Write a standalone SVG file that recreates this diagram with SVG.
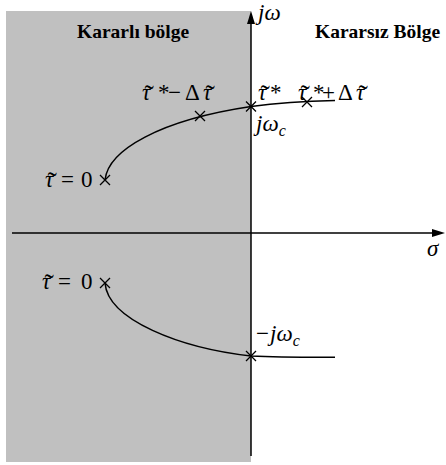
<svg xmlns="http://www.w3.org/2000/svg" width="446" height="465" viewBox="0 0 446 465">
<style>
.ax{stroke:#000;stroke-width:1.5;fill:none}
.cv{stroke:#000;stroke-width:1.5;fill:none}
.mk{stroke:#000;stroke-width:1.3;fill:none}
text{font-family:'Liberation Serif','Times New Roman',serif;fill:#000}
.t{font-size:23px}
.i{font-style:italic}
.b{font-size:19.5px;font-weight:bold}
.s{font-size:16px}
.tl{font-size:28px}
</style>
<defs>
<path id="x" d="M-5,-5L5,5M-5,5L5,-5"/>
</defs>
<rect id="stable-region" x="6" y="11" width="245" height="451" fill="#c0c0c0"/>
<g id="axes">
<line class="ax" x1="251" y1="456" x2="251" y2="22"/>
<polygon points="251,11 247,24 255,24" fill="#000"/>
<line class="ax" x1="12" y1="233" x2="433" y2="233"/>
<polygon points="445,233 432,229 432,237" fill="#000"/>
</g>
<g id="connectors">
<path class="cv" d="M105,180 C108,150 160,120 251,106.5 C280,102.5 310,101 335,100.5"/>
<path class="cv" d="M105,283 C108,320 180,348 251,356 C280,357.5 310,357.3 335,357.3"/>
</g>
<g id="markers">
<use href="#x" class="mk" x="105" y="180"/>
<use href="#x" class="mk" x="200" y="116"/>
<use href="#x" class="mk" x="251" y="106.5"/>
<use href="#x" class="mk" x="307" y="102"/>
<use href="#x" class="mk" x="105" y="283"/>
<use href="#x" class="mk" x="251" y="356"/>
</g>
<g id="labels">
<text class="b" x="77" y="37.5">Kararlı bölge</text>
<text class="b" x="315" y="37.5">Kararsız Bölge</text>
<text class="t i" x="258" y="20">jω</text>
<text class="t i" x="427" y="256">σ</text>
<text class="t" y="187"><tspan class="i" x="45">τ</tspan><tspan class="tl" x="47.5" dy="4">˜</tspan><tspan x="61" dy="-4">=</tspan><tspan x="81">0</tspan></text>
<text class="t" y="289"><tspan class="i" x="42">τ</tspan><tspan class="tl" x="44.5" dy="4">˜</tspan><tspan x="58" dy="-4">=</tspan><tspan x="81">0</tspan></text>
<text class="t" y="100"><tspan class="i" x="142">τ</tspan><tspan class="tl" x="144.5" dy="4">˜</tspan><tspan x="158" dy="-4">*</tspan><tspan x="168">−</tspan><tspan x="185">Δ</tspan><tspan class="i" x="203">τ</tspan><tspan class="tl" x="205.5" dy="4">˜</tspan></text>
<text class="t" y="100"><tspan class="i" x="258">τ</tspan><tspan class="tl" x="260.5" dy="4">˜</tspan><tspan x="270" dy="-4">*</tspan></text>
<text class="t" y="100"><tspan class="i" x="298">τ</tspan><tspan class="tl" x="300.5" dy="4">˜</tspan><tspan x="313" dy="-4">*</tspan><tspan x="322">+</tspan><tspan x="338">Δ</tspan><tspan class="i" x="356">τ</tspan><tspan class="tl" x="358.5" dy="4">˜</tspan></text>
<text class="t i" x="256" y="131">jω<tspan class="s" dy="5">c</tspan></text>
<text class="t" y="341"><tspan x="256">−</tspan><tspan class="i" x="270">jω</tspan><tspan class="i s" dy="5">c</tspan></text>
</g>
</svg>
